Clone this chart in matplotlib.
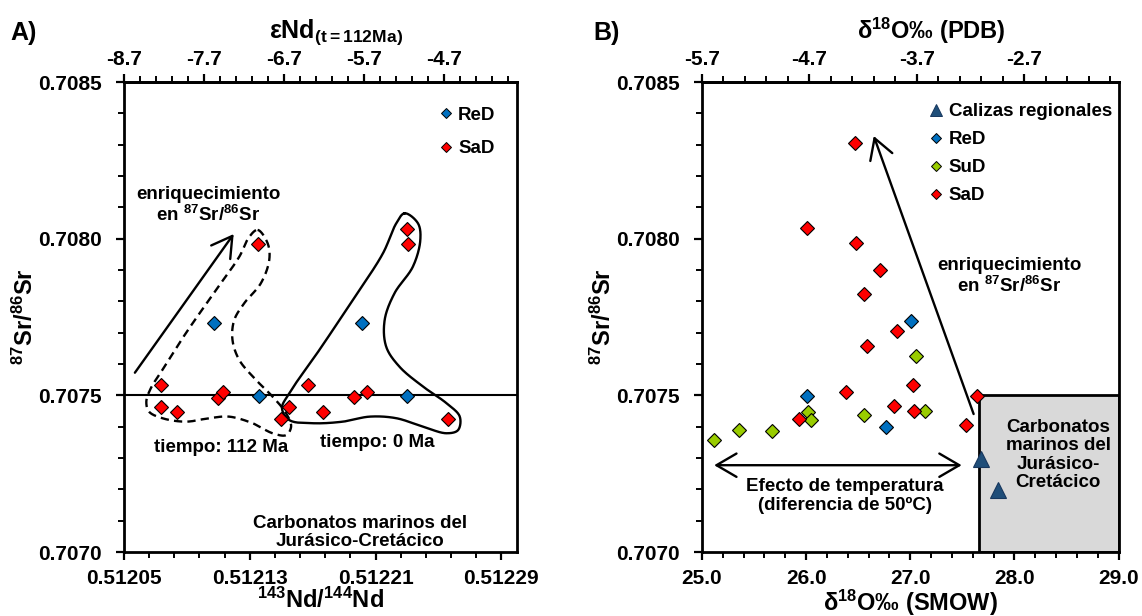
import numpy as np
import matplotlib
matplotlib.use('Agg')
import matplotlib.pyplot as plt
from matplotlib.ticker import MultipleLocator, FixedLocator, FormatStrFormatter
from matplotlib.lines import Line2D
from matplotlib.patches import Rectangle

plt.rcParams['font.family'] = ['Liberation Sans', 'DejaVu Sans']
plt.rcParams['font.weight'] = 'bold'
plt.rcParams['axes.labelweight'] = 'bold'
plt.rcParams['mathtext.fontset'] = 'custom'
plt.rcParams['mathtext.rm'] = 'Liberation Sans:bold'
plt.rcParams['mathtext.it'] = 'Liberation Sans:bold'
plt.rcParams['mathtext.bf'] = 'Liberation Sans:bold'
plt.rcParams['mathtext.default'] = 'rm'

RED = '#FF0000'
BLUE = '#0070C0'
GREEN = '#99CC00'
NAVY = '#1F4E79'

# ---- A) Nd vs Sr
nd_red = [0.5121354, 0.5122300, 0.5122306, 0.5120734, 0.5120734, 0.5120840,
          0.5121095, 0.5121131, 0.5121499, 0.5121552, 0.5121673, 0.5121764,
          0.5121966, 0.5122045, 0.5122561]
sr_red_a = [0.707983, 0.708031, 0.707983, 0.707532, 0.707463, 0.707448,
            0.707493, 0.707511, 0.707426, 0.707463, 0.707532, 0.707448,
            0.707495, 0.707511, 0.707426]
nd_blue = [0.5121074, 0.5122015, 0.5121361, 0.5122300]
sr_blue_a = [0.707732, 0.707732, 0.707498, 0.707498]

# outline of the samples recalculated to 112 Ma (dashed)
outline_112_nd = [0.512135, 0.5121414, 0.5121424, 0.5121371, 0.5121265, 0.5121201,
                  0.512119, 0.5121233, 0.512134, 0.5121445, 0.5121531, 0.5121563,
                  0.5121531, 0.5121445, 0.5121318, 0.5121169, 0.5121042, 0.5120893,
                  0.5120744, 0.5120659, 0.5120642, 0.512067, 0.5120744, 0.5120893,
                  0.5121085, 0.5121233, 0.5121297]
outline_112_sr = [0.708028, 0.707985, 0.707932, 0.707858, 0.707794, 0.70774,
                  0.707677, 0.707613, 0.707549, 0.707496, 0.707443, 0.7074,
                  0.707373, 0.707379, 0.707411, 0.707432, 0.707427, 0.707416,
                  0.707427, 0.707448, 0.70748, 0.707522, 0.707581, 0.707698,
                  0.707836, 0.707942, 0.708006]
# outline of the present-day values (solid)
outline_0_nd = [0.5122285, 0.512237, 0.5122385, 0.5122338, 0.5122221, 0.5122158,
                0.5122168, 0.5122253, 0.5122402, 0.5122551, 0.5122636, 0.5122625,
                0.5122551, 0.5122402, 0.5122232, 0.5122062, 0.5121892, 0.51217,
                0.5121552, 0.5121505, 0.5121552, 0.5121743, 0.5121955, 0.5122147,
                0.5122232]
outline_0_sr = [0.708081, 0.708049, 0.707996, 0.707911, 0.707826, 0.70774,
                0.707655, 0.707591, 0.707528, 0.707475, 0.707432, 0.707389,
                0.707379, 0.7074, 0.707427, 0.707432, 0.707416, 0.707411,
                0.707421, 0.707459, 0.707507, 0.707645, 0.707804, 0.707953,
                0.708049]

nd_ticks = [0.51205, 0.51213, 0.51221, 0.51229]
eps_ticks = [-8.7, -7.7, -6.7, -5.7, -4.7]
sr_ticks = [0.7070, 0.7075, 0.7080, 0.7085]
marine_sr = 0.7075

# ---- B) d18O vs Sr
smow_calizas = [27.68, 27.84]
sr_calizas = [0.707297, 0.707197]
smow_red = [26.47, 26.005, 26.476, 26.711, 26.558, 26.868, 26.586, 27.029,
            26.38, 27.638, 26.84, 27.04, 25.927, 27.538]
sr_red_b = [0.708306, 0.708034, 0.707986, 0.707901, 0.707824, 0.707705, 0.707659,
            0.707534, 0.707512, 0.707498, 0.707467, 0.707451, 0.707426, 0.707405]
smow_blue = [27.01, 26.01, 26.77]
sr_blue_b = [0.707736, 0.707499, 0.7074]
smow_green = [27.05, 26.02, 26.05, 26.56, 27.14, 25.12, 25.36, 25.67]
sr_green = [0.707627, 0.707448, 0.707421, 0.707438, 0.707449, 0.707357, 0.70739, 0.707385]
smow_ticks = [25.0, 26.0, 27.0, 28.0, 29.0]
pdb_ticks = [-5.7, -4.7, -3.7, -2.7]
marine_smow_min = 27.663

EPS_PER_ND = 5.084e-5


def nd_to_eps(x):
    return -8.7 + (np.asarray(x) - 0.51205) / EPS_PER_ND


def eps_to_nd(e):
    return 0.51205 + (np.asarray(e) + 8.7) * EPS_PER_ND


def smow_to_pdb(x):
    return -5.7 + (np.asarray(x) - 25.0) / 1.03091


def pdb_to_smow(p):
    return 25.0 + (np.asarray(p) + 5.7) * 1.03091


def smooth_closed(xs, ys, sx, sy, n=24, alpha=0.5):
    # centripetal Catmull-Rom through the outline vertices, done in pixel-like units
    P = np.column_stack([np.asarray(xs) / sx, np.asarray(ys) / sy])
    N = len(P)
    out = []
    for i in range(N):
        p0, p1, p2, p3 = P[i - 1], P[i], P[(i + 1) % N], P[(i + 2) % N]
        t0 = 0.0
        t1 = t0 + np.linalg.norm(p1 - p0) ** alpha
        t2 = t1 + np.linalg.norm(p2 - p1) ** alpha
        t3 = t2 + np.linalg.norm(p3 - p2) ** alpha
        for t in np.linspace(t1, t2, n, endpoint=False):
            a1 = (t1 - t) / (t1 - t0) * p0 + (t - t0) / (t1 - t0) * p1
            a2 = (t2 - t) / (t2 - t1) * p1 + (t - t1) / (t2 - t1) * p2
            a3 = (t3 - t) / (t3 - t2) * p2 + (t - t2) / (t3 - t2) * p3
            b1 = (t2 - t) / (t2 - t0) * a1 + (t - t0) / (t2 - t0) * a2
            b2 = (t3 - t) / (t3 - t1) * a2 + (t - t1) / (t3 - t1) * a3
            out.append((t2 - t) / (t2 - t1) * b1 + (t - t1) / (t2 - t1) * b2)
    out.append(out[0])
    out = np.array(out)
    return out[:, 0] * sx, out[:, 1] * sy


def style_axes(ax):
    for s in ax.spines.values():
        s.set_linewidth(2.0)
    ax.tick_params(which='major', direction='out', length=6, width=1.6,
                   labelsize=15, pad=6)
    ax.tick_params(which='minor', direction='out', length=4, width=1.4)
    ax.tick_params(axis='x', which='both', top=False)
    ax.tick_params(axis='y', which='major', pad=10)
    ax.set_ylim(0.7070, 0.7085)
    ax.yaxis.set_major_locator(FixedLocator(sr_ticks))
    ax.yaxis.set_minor_locator(MultipleLocator(0.0001))
    ax.yaxis.set_major_formatter(FormatStrFormatter('%.4f'))
    ax.set_ylabel('$^{87}$Sr/$^{86}$Sr', fontsize=17, labelpad=0)


fig = plt.figure(figsize=(11.42, 6.16), dpi=100)
axA = fig.add_axes([124 / 1142, 64 / 616, 393 / 1142, 470 / 616])
axB = fig.add_axes([702 / 1142, 64 / 616, 416.6 / 1142, 470 / 616])

dia = dict(marker='D', ls='none', ms=7.2, mec='black', mew=0.8)

# ---------- panel A
style_axes(axA)
axA.set_xlim(0.51205, 0.5123)
axA.xaxis.set_major_locator(FixedLocator(nd_ticks))
axA.xaxis.set_minor_locator(FixedLocator(np.arange(0.51205, 0.51230, 0.000016)))
axA.xaxis.set_major_formatter(FormatStrFormatter('%.5f'))
axA.set_xlabel('$^{143}$Nd/$^{144}$Nd', fontsize=17, labelpad=0)

axA.axhline(marine_sr, color='black', lw=1.5, zorder=1)

sxA, syA = 0.00025 / 393, 0.0015 / 470
cx, cy = smooth_closed(outline_112_nd, outline_112_sr, sxA, syA)
axA.plot(cx, cy, color='black', lw=1.7, ls=(0, (3.5, 2.2)), zorder=2)
cx, cy = smooth_closed(outline_0_nd, outline_0_sr, sxA, syA)
axA.plot(cx, cy, color='black', lw=1.7, zorder=2)

axA.plot(nd_blue, sr_blue_a, mfc=BLUE, zorder=4, **dia)
axA.plot(nd_red, sr_red_a, mfc=RED, zorder=5, **dia)

axA.annotate('', xy=(0.5121208, 0.708022), xytext=(0.5120559, 0.707565),
             arrowprops=dict(arrowstyle='->, head_length=0.6, head_width=0.35',
                             lw=1.7, color='black', mutation_scale=24))
axA.text(0.5121036, 0.708106, 'enriquecimiento\nen $^{87}$Sr/$^{86}$Sr',
         ha='center', va='center', fontsize=13.5, linespacing=1.1)
axA.text(0.5121118, 0.707335, 'tiempo: 112 Ma', ha='center', va='center', fontsize=13.5)
axA.text(0.5122113, 0.707351, 'tiempo: 0 Ma', ha='center', va='center', fontsize=13.5)
axA.text(0.5122, 0.707062, 'Carbonatos marinos del\nJurásico-Cretácico',
         ha='center', va='center', fontsize=13.5, linespacing=1.1)

hA = [Line2D([], [], marker='D', ls='none', ms=5, mfc=BLUE, mec='black', mew=0.7),
      Line2D([], [], marker='D', ls='none', ms=5, mfc=RED, mec='black', mew=0.7)]
axA.legend(hA, ['ReD', 'SaD'], loc='upper left', bbox_to_anchor=(0.8025, 0.947),
           frameon=False, fontsize=13.5, borderpad=0, borderaxespad=0,
           handlelength=0.7, handletextpad=0.3, labelspacing=0.85)

topA = axA.secondary_xaxis('top', functions=(nd_to_eps, eps_to_nd))
topA.set_xticks(eps_ticks)
topA.xaxis.set_minor_locator(MultipleLocator(0.2, offset=0.1))
topA.xaxis.set_major_formatter(FormatStrFormatter('%.1f'))
topA.tick_params(which='major', direction='out', length=6, width=1.6, labelsize=15, pad=3)
topA.tick_params(which='minor', direction='out', length=4, width=1.4)
topA.spines['top'].set_linewidth(2.0)
topA.set_xlabel('εNd$_{(t{=}112Ma)}$', fontsize=18, labelpad=9)
topA.xaxis.label.set_x(0.54)

fig.text(10 / 1142, 1 - 33 / 616, 'A)', fontsize=18, va='center', ha='left')

# ---------- panel B
style_axes(axB)
axB.set_xlim(25.0, 29.0)
axB.xaxis.set_major_locator(FixedLocator(smow_ticks))
axB.xaxis.set_minor_locator(MultipleLocator(0.2))
axB.xaxis.set_major_formatter(FormatStrFormatter('%.1f'))
axB.set_xlabel('δ$^{18}$O‰ (SMOW)', fontsize=17, labelpad=0)

axB.add_patch(Rectangle((marine_smow_min, 0.7070), 29.0 - marine_smow_min, marine_sr - 0.7070,
                        facecolor='#D9D9D9', edgecolor='black', lw=2.0, zorder=1))

axB.plot(smow_calizas, sr_calizas, marker='^', ls='none', ms=12, mfc=NAVY,
         mec='#17375E', mew=0.8, zorder=4)
axB.plot(smow_blue, sr_blue_b, mfc=BLUE, zorder=4, **dia)
axB.plot(smow_green, sr_green, mfc=GREEN, zorder=5, **dia)
axB.plot(smow_red, sr_red_b, mfc=RED, zorder=6, **dia)

axB.annotate('', xy=(26.64, 0.708336), xytext=(27.617, 0.707432),
             arrowprops=dict(arrowstyle='->, head_length=0.6, head_width=0.35',
                             lw=1.7, color='black', mutation_scale=24))
axB.annotate('', xy=(25.09, 0.707277), xytext=(27.52, 0.707277),
             arrowprops=dict(arrowstyle='<->, head_length=0.6, head_width=0.35',
                             lw=1.7, color='black', mutation_scale=24))
axB.text(27.95, 0.707879, 'enriquecimiento\nen $^{87}$Sr/$^{86}$Sr',
         ha='center', va='center', fontsize=13.5, linespacing=1.1)
axB.text(26.37, 0.707179, 'Efecto de temperatura\n(diferencia de 50ºC)',
         ha='center', va='center', fontsize=13.5, linespacing=1.1)
axB.text(28.42, 0.70731, 'Carbonatos\nmarinos del\nJurásico-\nCretácico',
         ha='center', va='center', fontsize=13.5, linespacing=1.1, zorder=3)

hB = [Line2D([], [], marker='^', ls='none', ms=8, mfc=NAVY, mec='#17375E', mew=0.7),
      Line2D([], [], marker='D', ls='none', ms=5, mfc=BLUE, mec='black', mew=0.7),
      Line2D([], [], marker='D', ls='none', ms=5, mfc=GREEN, mec='black', mew=0.7),
      Line2D([], [], marker='D', ls='none', ms=5, mfc=RED, mec='black', mew=0.7)]
axB.legend(hB, ['Calizas regionales', 'ReD', 'SuD', 'SaD'], loc='upper left',
           bbox_to_anchor=(0.547, 0.955), frameon=False, fontsize=13.5, borderpad=0,
           borderaxespad=0, handlelength=0.7, handletextpad=0.3, labelspacing=0.58)

topB = axB.secondary_xaxis('top', functions=(smow_to_pdb, pdb_to_smow))
topB.set_xticks(pdb_ticks)
topB.xaxis.set_minor_locator(MultipleLocator(0.2, offset=0.1))
topB.xaxis.set_major_formatter(FormatStrFormatter('%.1f'))
topB.tick_params(which='major', direction='out', length=6, width=1.6, labelsize=15, pad=3)
topB.tick_params(which='minor', direction='out', length=4, width=1.4)
topB.spines['top'].set_linewidth(2.0)
topB.set_xlabel('δ$^{18}$O‰ (PDB)', fontsize=17, labelpad=8)
topB.xaxis.label.set_x(0.55)

fig.text(593 / 1142, 1 - 33 / 616, 'B)', fontsize=18, va='center', ha='left')

fig.savefig('out.png', dpi=100)
